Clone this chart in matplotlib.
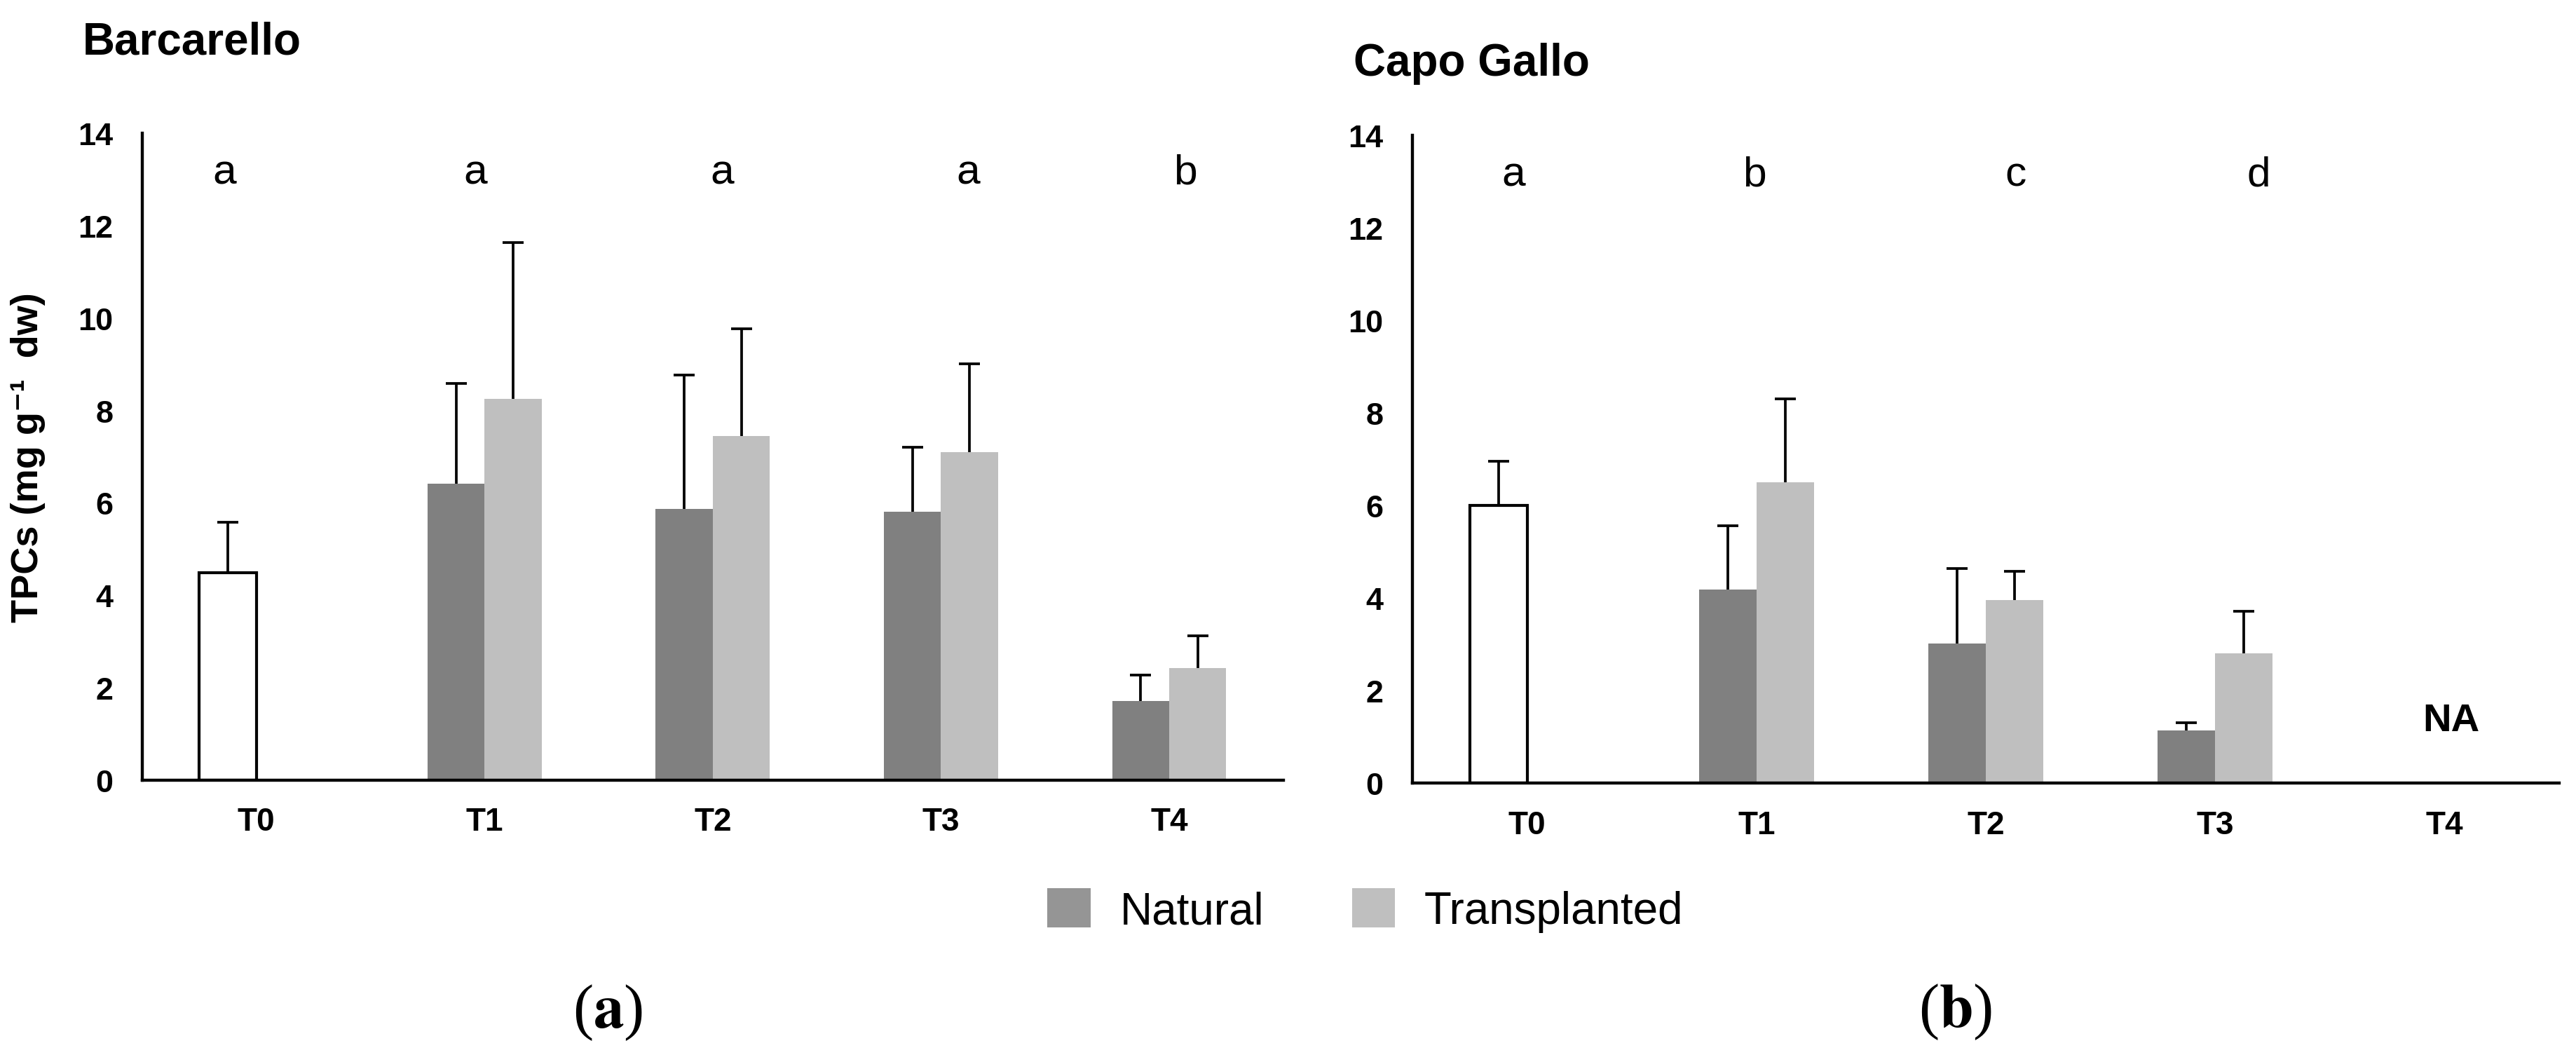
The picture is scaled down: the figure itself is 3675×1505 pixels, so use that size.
import numpy as np
import matplotlib
matplotlib.use("Agg")
from matplotlib import pyplot as plt
from matplotlib.patches import Patch

plt.rcParams['font.family'] = ['Liberation Sans', 'DejaVu Sans']
plt.rcParams['mathtext.fontset'] = 'stix'

# Datos
categorias = ['T0', 'T1', 'T2', 'T3', 'T4']

# Barcarello
barc_t0 = 4.49
barc_t0_err = 1.09
barc_nat = [6.41, 5.87, 5.81, 1.71]
barc_nat_err = [2.17, 2.89, 1.39, 0.56]
barc_tra = [8.25, 7.45, 7.10, 2.42]
barc_tra_err = [3.39, 2.32, 1.91, 0.71]
barc_letras = ['a', 'a', 'a', 'a', 'b']

# Capo Gallo (T4 sin datos)
capo_t0 = 6.00
capo_t0_err = 0.96
capo_nat = [4.18, 3.02, 1.14]
capo_nat_err = [1.38, 1.62, 0.16]
capo_tra = [6.50, 3.96, 2.81]
capo_tra_err = [1.81, 0.61, 0.91]
capo_letras = ['a', 'b', 'c', 'd']

col_nat = '#808080'
col_tra = '#bfbfbf'
ancho = 0.25

fig = plt.figure(figsize=(12.25, 5.02), dpi=300)
ax1 = fig.add_axes([0.0552, 0.2603, 0.4430, 0.6129])
ax2 = fig.add_axes([0.5483, 0.2576, 0.4452, 0.6136])


def barra_error(ax, x, y, err):
    # solo la parte de arriba del error
    n = len(np.atleast_1d(x))
    _, caps, _ = ax.errorbar(x, y, yerr=[np.zeros(n), err], fmt='none', ecolor='black',
                             elinewidth=0.9, capsize=3.6, capthick=0.9, zorder=1)
    caps[0].set_visible(False)


def panel(ax, t0, t0_err, nat, nat_err, tra, tra_err, letras, desp_letras):
    n = len(nat)
    x = np.arange(1, n + 1)
    # barra inicial (T0) blanca
    ax.bar(0 - ancho / 2, t0, ancho, color='white', edgecolor='black', linewidth=1.0, zorder=2)
    barra_error(ax, [0 - ancho / 2], [t0], [t0_err])
    ax.bar(x - ancho / 2, nat, ancho, color=col_nat, linewidth=0, zorder=2)
    ax.bar(x + ancho / 2, tra, ancho, color=col_tra, linewidth=0, zorder=2)
    barra_error(ax, x - ancho / 2, nat, nat_err)
    barra_error(ax, x + ancho / 2, tra, tra_err)
    for i, letra in enumerate(letras):
        ax.text(i + desp_letras[i], 13.15, letra, ha='center', va='center', fontsize=14.5)

    ax.set_xlim(-0.5, 4.5)
    ax.set_ylim(0, 14)
    ax.set_yticks(range(0, 15, 2))
    ax.set_xticks(range(len(categorias)))
    ax.set_xticklabels(categorias, fontweight='bold', fontsize=11)
    for lab in ax.get_yticklabels():
        lab.set_fontweight('bold')
        lab.set_fontsize(10.8)
    ax.tick_params(axis='y', length=0, pad=10)
    ax.tick_params(axis='x', length=0, pad=9)
    ax.spines['top'].set_visible(False)
    ax.spines['right'].set_visible(False)
    ax.spines['left'].set_linewidth(1.05)
    ax.spines['bottom'].set_linewidth(1.05)


panel(ax1, barc_t0, barc_t0_err, barc_nat, barc_nat_err, barc_tra, barc_tra_err,
      barc_letras, [-0.14, -0.04, 0.04, 0.12, 0.07])
panel(ax2, capo_t0, capo_t0_err, capo_nat, capo_nat_err, capo_tra, capo_tra_err,
      capo_letras, [-0.06, -0.01, 0.13, 0.19])

ax2.text(4.03, 1.35, 'NA', ha='center', va='center', fontsize=13.5, fontweight='bold')

ax1.set_ylabel('TPCs (mg g⁻¹  dw)', fontweight='bold', fontsize=13)
ax1.yaxis.set_label_coords(-0.0848, 0.5)

fig.text(118 / 3675, 1 - 78 / 1506, 'Barcarello', fontweight='bold', fontsize=15.3,
         ha='left', va='baseline')
fig.text(1931 / 3675, 1 - 108 / 1506, 'Capo Gallo', fontweight='bold', fontsize=15.3,
         ha='left', va='baseline')

# leyenda
manijas = [Patch(facecolor='#959595', edgecolor='none', label='Natural'),
           Patch(facecolor=col_tra, edgecolor='none', label='Transplanted')]
fig.legend(handles=manijas, loc='center', bbox_to_anchor=(0.530, 0.137), ncol=2,
           frameon=False, fontsize=15.3, handlelength=0.97, handleheight=0.97,
           handletextpad=0.65, columnspacing=1.97)

fig.text(0.236, 1 - 1466 / 1506, r'($\mathbf{a}$)', family='Liberation Serif',
         fontsize=21, ha='center', va='baseline')
fig.text(0.759, 1 - 1465 / 1506, r'($\mathbf{b}$)', family='Liberation Serif',
         fontsize=21, ha='center', va='baseline')

fig.savefig('out.png', dpi=300)
